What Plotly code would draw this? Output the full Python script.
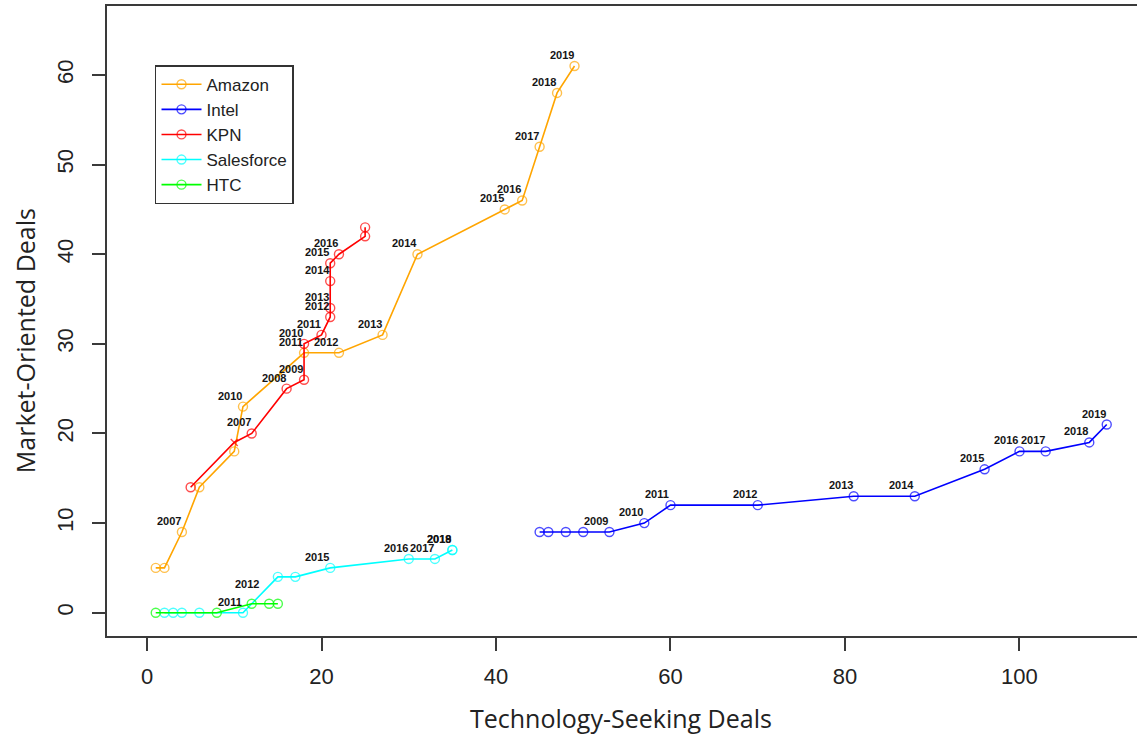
import plotly.graph_objects as go

# ---------------- data ----------------
amazon_x = [1, 2, 4, 6, 10, 11, 18, 22, 27, 31, 41, 43, 45, 47, 49]
amazon_y = [5, 5, 9, 14, 18, 23, 29, 29, 31, 40, 45, 46, 52, 58, 61]
amazon_lbl = ["", "", "2007", "", "", "2010", "2011", "2012", "2013", "2014",
              "2015", "2016", "2017", "2018", "2019"]

intel_x = [45, 46, 48, 50, 53, 57, 60, 70, 81, 88, 96, 100, 103, 108, 110]
intel_y = [9, 9, 9, 9, 9, 10, 12, 12, 13, 13, 16, 18, 18, 19, 21]
intel_lbl = ["", "", "", "", "2009", "2010", "2011", "2012", "2013", "2014",
             "2015", "2016", "2017", "2018", "2019"]

kpn_x = [5, 10, 12, 16, 18, 18, 20, 21, 21, 21, 21, 22, 25, 25]
kpn_y = [14, 19, 20, 25, 26, 30, 31, 33, 34, 37, 39, 40, 42, 43]
kpn_lbl = ["", "", "2007", "2008", "2009", "2010", "2011", "2012", "2013",
           "2014", "2015", "2016", "", ""]

sf_x = [2, 3, 4, 6, 11, 15, 17, 21, 30, 33, 35, 35]
sf_y = [0, 0, 0, 0, 0, 4, 4, 5, 6, 6, 7, 7]
sf_lbl = ["", "", "", "", "2011", "", "", "2015", "2016", "2017", "2018", "2019"]

htc_x = [1, 8, 12, 14, 15]
htc_y = [0, 0, 1, 1, 1]
htc_lbl = ["", "", "", "", ""]

extra_lbl_text = ["2012"]
extra_lbl_x = [13]
extra_lbl_y = [2]

x_ticks = [0, 20, 40, 60, 80, 100]
y_ticks = [0, 10, 20, 30, 40, 50, 60]

# ---------------- styling ----------------
series = [
    ("Amazon", amazon_x, amazon_y, amazon_lbl, "#FFA500"),
    ("Intel", intel_x, intel_y, intel_lbl, "#0000FF"),
    ("KPN", kpn_x, kpn_y, kpn_lbl, "#FF0000"),
    ("Salesforce", sf_x, sf_y, sf_lbl, "#00FFFF"),
    ("HTC", htc_x, htc_y, htc_lbl, "#00FF00"),
]

FONT = "Liberation Sans, Arial, sans-serif"
TITLE_FONT = "Open Sans, Liberation Sans, sans-serif"
AXIS_COLOR = "#3a3a3a"

fig = go.Figure()
annotations = []

for name, xs, ys, lbls, col in series:
    symbols = ["circle-open"] * len(xs)
    sizes = [9] * len(xs)
    if name == "KPN":
        symbols[1] = "x-thin-open"
        sizes[1] = 7
    fig.add_trace(go.Scatter(
        x=xs, y=ys, name=name, mode="lines+markers",
        line=dict(color=col, width=1.6),
        marker=dict(symbol=symbols, size=sizes, color=col,
                    line=dict(color=col, width=1.4)),
    ))
    for xv, yv, t in zip(xs, ys, lbls):
        if t:
            annotations.append(dict(
                x=xv, y=yv, xref="x", yref="y", text="<b>" + t + "</b>",
                showarrow=False, xshift=-13, yshift=11,
                font=dict(size=11, family=FONT, color="#151515")))

for t, xv, yv in zip(extra_lbl_text, extra_lbl_x, extra_lbl_y):
    annotations.append(dict(
        x=xv, y=yv, xref="x", yref="y", text="<b>" + t + "</b>",
        showarrow=False, xshift=-13, yshift=11,
        font=dict(size=11, family=FONT, color="#151515")))

# axis titles
annotations.append(dict(
    x=0.499, y=-0.130, xref="paper", yref="paper", text="Technology-Seeking Deals",
    showarrow=False, xanchor="center", yanchor="middle",
    font=dict(size=25, family=TITLE_FONT, color="#222")))
annotations.append(dict(
    x=-0.0796, y=0.468, xref="paper", yref="paper", text="Market-Oriented Deals",
    showarrow=False, xanchor="center", yanchor="middle", textangle=-90,
    font=dict(size=25, family=TITLE_FONT, color="#222")))

fig.update_layout(
    width=1137, height=737,
    margin=dict(l=107, r=0, t=6, b=101),
    plot_bgcolor="white", paper_bgcolor="white",
    annotations=annotations,
    legend=dict(
        x=0.0466, y=0.906, xanchor="left", yanchor="top",
        bordercolor="#333", borderwidth=1.5, bgcolor="white",
        font=dict(size=17, family=FONT, color="#222"),
        tracegroupgap=0, itemwidth=40,
    ),
    xaxis=dict(
        range=[-4.585, 113.47], tickvals=x_ticks, showgrid=False, zeroline=False,
        showline=True, linecolor=AXIS_COLOR, linewidth=2, mirror=True,
        ticks="outside", ticklen=13, tickwidth=1.6, tickcolor=AXIS_COLOR,
        tickfont=dict(size=22, family=FONT, color="#222"),
        ticklabelstandoff=7,
    ),
    yaxis=dict(
        range=[-2.6, 67.7], tickvals=y_ticks, showgrid=False, zeroline=False,
        showline=True, linecolor=AXIS_COLOR, linewidth=2, mirror=False,
        ticks="outside", ticklen=13, tickwidth=1.6, tickcolor=AXIS_COLOR,
        tickangle=-90,
        tickfont=dict(size=22, family=FONT, color="#222"),
        ticklabelstandoff=10,
    ),
)

fig.write_html(
    "out.html",
    config={"displayModeBar": False},
    post_script="document.body.style.margin='0';document.body.style.overflow='hidden';",
)
